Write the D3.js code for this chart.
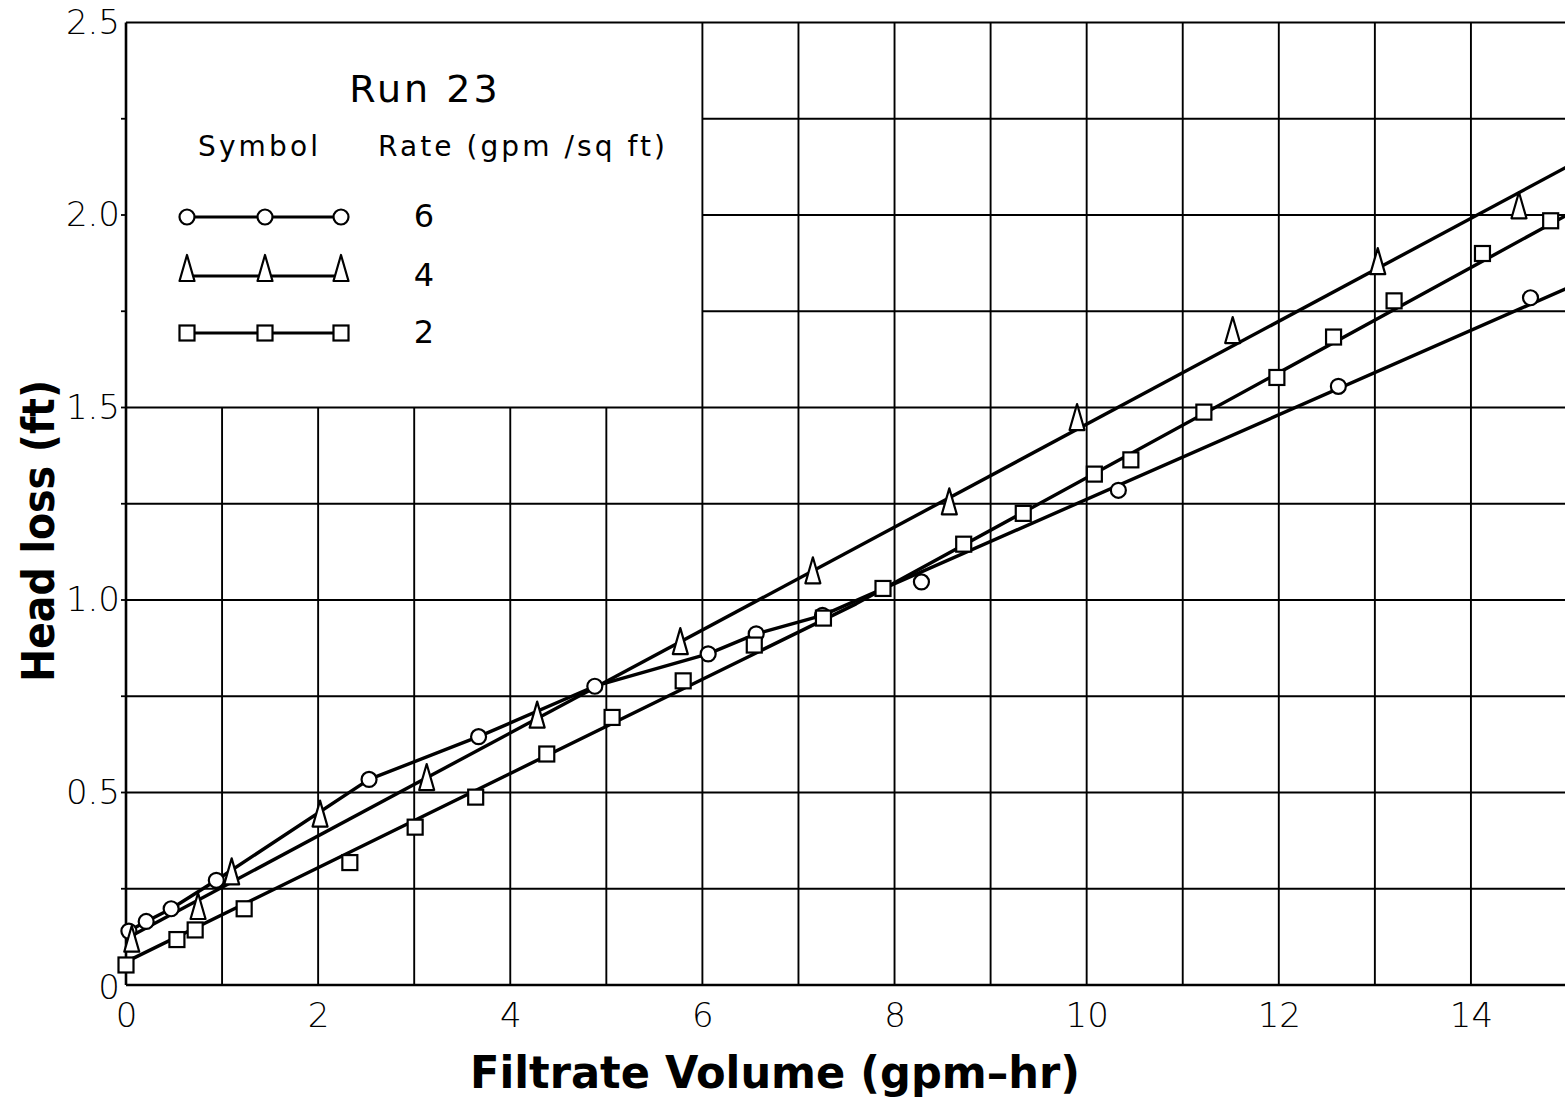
<!DOCTYPE html>
<html>
<head>
<meta charset="utf-8">
<script src="https://cdn.jsdelivr.net/npm/d3@7"></script>
<style>
  body { margin: 0; background: #fff; }
  svg { display: block; }
  .tick-label { font-family: "DejaVu Sans", sans-serif; font-weight: 300; }
</style>
</head>
<body>
<svg id="chart" width="1565" height="1106"></svg>
<script>
// Run 23 — head loss against filtrate volume for three filtration rates

const xTicks = [0, 2, 4, 6, 8, 10, 12, 14];
const yTicks = [0, 0.5, 1.0, 1.5, 2.0, 2.5];
const yTickLabels = ["0", "0.5", "1.0", "1.5", "2.0", "2.5"];
const rateLabels = ["6", "4", "2"];          // gpm / sq ft
const rateSymbols = ["circle", "triangle", "square"];

// measured points [filtrate volume (gpm-hr), head loss (ft)]
const rate6 = [
  [0.03, 0.140], [0.21, 0.165], [0.47, 0.198], [0.94, 0.272], [2.53, 0.534],
  [3.67, 0.645], [4.88, 0.776], [6.06, 0.860], [6.56, 0.912], [7.25, 0.960],
  [8.28, 1.047], [10.33, 1.285], [12.62, 1.555], [14.62, 1.785]
];
const rate4 = [
  [0.06, 0.115], [0.75, 0.200], [1.10, 0.290], [2.02, 0.440], [3.13, 0.535],
  [4.28, 0.697], [5.77, 0.888], [7.15, 1.072], [8.57, 1.251], [9.90, 1.470],
  [11.52, 1.696], [13.03, 1.875], [14.50, 2.020]
];
const rate2 = [
  [0.00, 0.052], [0.53, 0.118], [0.72, 0.143], [1.23, 0.198], [2.33, 0.318],
  [3.01, 0.410], [3.64, 0.488], [4.38, 0.600], [5.06, 0.695], [5.80, 0.790],
  [6.54, 0.883], [7.26, 0.953], [7.88, 1.030], [8.72, 1.145], [9.34, 1.225],
  [10.08, 1.327], [10.46, 1.364], [11.22, 1.488], [11.98, 1.578], [12.57, 1.683],
  [13.20, 1.777], [14.12, 1.900], [14.83, 1.985]
];

// drawn trend lines
const rate6Trend = [
  [0.03, 0.140], [0.21, 0.165], [0.47, 0.198], [0.94, 0.272], [2.53, 0.534],
  [3.67, 0.645], [4.88, 0.776], [6.06, 0.860], [6.56, 0.912], [7.25, 0.960],
  [15, 1.810]
];
const rate4Trend = [[0, 0.120], [15, 2.125]];
const rate2Trend = [[0, 0.060], [7.6, 0.990], [15, 2.000]];

const svg = d3.select("#chart");
svg.append("rect").attr("width", 1565).attr("height", 1106).attr("fill", "#fff");

const x = d3.scaleLinear().domain([0, 15]).range([126, 1567]);
const y = d3.scaleLinear().domain([0, 2.5]).range([985, 22.5]);

// ---- grid ----
const grid = svg.append("g").attr("stroke", "#000").attr("stroke-width", 1.9).attr("fill", "none");
d3.range(1, 15).forEach(v => {
  grid.append("line")
    .attr("x1", x(v)).attr("x2", x(v))
    .attr("y1", y(0)).attr("y2", v < 6 ? y(1.5) : y(2.5));
});
d3.range(0.25, 2.5, 0.25).forEach(v => {
  grid.append("line")
    .attr("y1", y(v)).attr("y2", y(v))
    .attr("x1", v > 1.5 ? x(6) : x(0)).attr("x2", x(15));
});
// top border
grid.append("line").attr("x1", x(0)).attr("x2", x(15)).attr("y1", y(2.5)).attr("y2", y(2.5)).attr("stroke-width", 2.2);

// ---- axes ----
const xAxis = svg.append("g")
  .attr("transform", `translate(0,${y(0)})`)
  .call(d3.axisBottom(x).tickValues(xTicks).tickSize(0).tickPadding(18).tickFormat(d3.format("d")));
xAxis.select(".domain").attr("stroke-width", 2.6).attr("d", `M${x(0)},0H${x(15)}`);
xAxis.selectAll("text").attr("class", "tick-label").attr("font-size", 34).attr("fill", "#000");

const yAxis = svg.append("g")
  .attr("transform", `translate(${x(0)},0)`)
  .call(d3.axisLeft(y).tickValues(yTicks).tickSize(0).tickPadding(6)
        .tickFormat((d, i) => yTickLabels[i]));
yAxis.select(".domain").attr("stroke-width", 2.6).attr("d", `M0,${y(0)}V${y(2.5)}`);
yAxis.selectAll("text").attr("class", "tick-label").attr("font-size", 34).attr("fill", "#000");
yAxis.selectAll(".tick").filter(d => d === 0).select("text").attr("dy", "0.4em").attr("x", -6);

// small left ticks every 0.25
svg.append("g").selectAll("line").data(d3.range(0.25, 2.5, 0.25)).join("line")
  .attr("x1", x(0) - 5).attr("x2", x(0)).attr("y1", d => y(d)).attr("y2", d => y(d))
  .attr("stroke", "#000").attr("stroke-width", 1.8);

// ---- trend lines ----
const line = d3.line().x(d => x(d[0])).y(d => y(d[1]));
const trendG = svg.append("g").attr("fill", "none").attr("stroke", "#000")
  .attr("stroke-width", 3.4).attr("stroke-linejoin", "round");
[rate6Trend, rate4Trend, rate2Trend].forEach(t => trendG.append("path").attr("d", line(t)));

// ---- markers ----
function marker(g, type, cx, cy) {
  const s = g.append("g").attr("transform", `translate(${cx},${cy})`)
    .attr("fill", "#fff").attr("stroke", "#000").attr("stroke-width", 2.2);
  if (type === "circle") s.append("circle").attr("r", 7.5);
  else if (type === "square") s.append("rect").attr("x", -7.5).attr("y", -7.5).attr("width", 15).attr("height", 15);
  else s.append("path").attr("d", "M0,-15 L7.5,11 L-7.5,11 Z").attr("stroke-linejoin", "round");
}
const markG = svg.append("g");
[rate6, rate4, rate2].forEach((pts, i) => {
  pts.forEach(p => marker(markG, rateSymbols[i], x(p[0]), y(p[1])));
});

// ---- legend ----
const leg = svg.append("g").attr("font-family", "DejaVu Sans, sans-serif").attr("fill", "#000");
leg.append("text").attr("x", 425).attr("y", 102).attr("text-anchor", "middle")
  .attr("font-size", 38).attr("letter-spacing", 3).text("Run 23");
leg.append("text").attr("x", 198).attr("y", 156).attr("font-size", 28)
  .attr("textLength", 120).attr("lengthAdjust", "spacing").text("Symbol");
leg.append("text").attr("x", 378).attr("y", 156).attr("font-size", 28)
  .attr("textLength", 287).attr("lengthAdjust", "spacing").text("Rate (gpm /sq ft)");

const rowY = [217, 276, 333];
const sampleX = [187, 265, 341];
rateLabels.forEach((lab, i) => {
  leg.append("line").attr("x1", sampleX[0]).attr("x2", sampleX[2])
    .attr("y1", rowY[i]).attr("y2", rowY[i]).attr("stroke", "#000").attr("stroke-width", 2.8);
  const my = rateSymbols[i] === "triangle" ? rowY[i] - 6 : rowY[i];
  sampleX.forEach(sx => marker(leg, rateSymbols[i], sx, my));
  leg.append("text").attr("x", 424).attr("y", rowY[i] + 10).attr("text-anchor", "middle")
    .attr("font-size", 32).text(lab);
});

// ---- axis titles ----
svg.append("text")
  .attr("x", 775).attr("y", 1088).attr("text-anchor", "middle")
  .attr("font-family", "DejaVu Sans, sans-serif").attr("font-weight", "bold")
  .attr("font-size", 44).attr("textLength", 610).attr("lengthAdjust", "spacingAndGlyphs")
  .text("Filtrate Volume (gpm\u2013hr)");
svg.append("text")
  .attr("transform", "translate(54,531) rotate(-90)").attr("text-anchor", "middle")
  .attr("font-family", "DejaVu Sans, sans-serif").attr("font-weight", "bold")
  .attr("font-size", 44).attr("textLength", 302).attr("lengthAdjust", "spacingAndGlyphs")
  .text("Head loss (ft)");
</script>
</body>
</html>
